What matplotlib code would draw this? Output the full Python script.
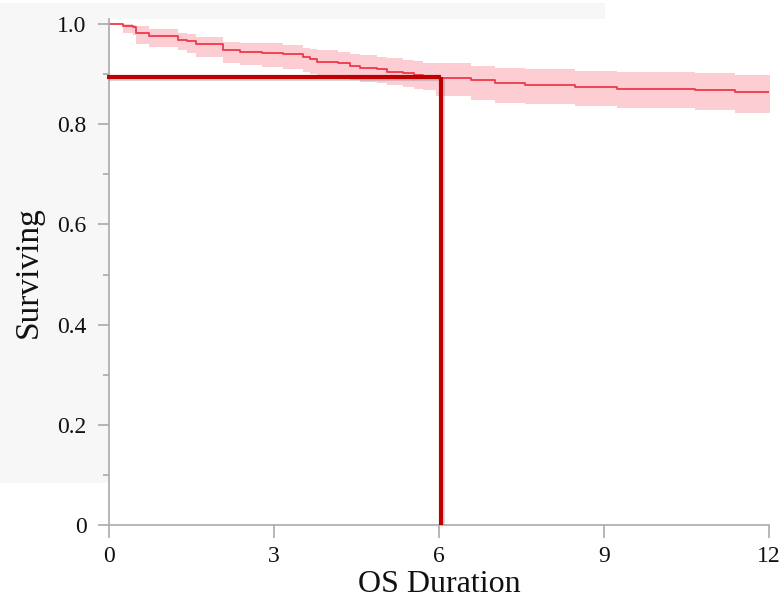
import matplotlib
matplotlib.use("Agg")
import matplotlib.pyplot as plt
import matplotlib.patheffects as pe
import numpy as np

# Kaplan-Meier values (time in months)
times = [0, 0.26, 0.44, 0.49, 0.73, 1.26, 1.41, 1.58, 2.08, 2.38, 2.78, 3.16, 3.53, 3.65, 3.78,
         4.16, 4.38, 4.56, 4.87, 5.05, 5.35, 5.55, 5.71, 5.95, 6.59, 7.02, 7.56, 8.47, 9.23,
         10.65, 11.38, 12.05]
surv = [1.0, 0.997, 0.994, 0.982, 0.976, 0.969, 0.966, 0.960, 0.949, 0.945, 0.943, 0.940, 0.935,
        0.930, 0.925, 0.922, 0.917, 0.913, 0.910, 0.905, 0.902, 0.899, 0.896, 0.893, 0.888,
        0.882, 0.878, 0.875, 0.871, 0.868, 0.864, 0.864]
upper = [1.0, 1.0, 0.999, 0.997, 0.990, 0.982, 0.980, 0.975, 0.965, 0.963, 0.963, 0.958, 0.952,
         0.950, 0.948, 0.945, 0.941, 0.938, 0.935, 0.932, 0.928, 0.926, 0.923, 0.923, 0.917,
         0.913, 0.910, 0.907, 0.905, 0.902, 0.898, 0.898]
lower = [1.0, 0.982, 0.978, 0.961, 0.955, 0.948, 0.943, 0.935, 0.922, 0.918, 0.915, 0.910, 0.905,
         0.901, 0.898, 0.893, 0.888, 0.885, 0.882, 0.878, 0.874, 0.871, 0.868, 0.857, 0.849,
         0.843, 0.840, 0.837, 0.832, 0.828, 0.823, 0.823]

mark_time = 6.03
mark_surv = 0.895

x_ticks = [0, 3, 6, 9, 12]
y_ticks = [0, 0.2, 0.4, 0.6, 0.8, 1.0]
y_labels = ["0", "0.2", "0.4", "0.6", "0.8", "1.0"]

plt.rcParams['font.family'] = ['Liberation Serif', 'DejaVu Serif']

fig = plt.figure(figsize=(7.8, 6.11), dpi=100)
# light grey panel behind the top-left of the chart
fig.patches.append(plt.Rectangle((0, 0.2095), 0.776, 0.7855, transform=fig.transFigure,
                                 facecolor='#f7f7f7', edgecolor='none', zorder=-5))

ax = fig.add_axes([0.1397, 0.1408, 0.8462, 0.828])
ax.set_facecolor('white')
ax.set_zorder(2)

ax.fill_between(times, lower, upper, step='post', color='#fccdd3', linewidth=0, zorder=1)
ax.step(times, surv, where='post', color='#f0384a', linewidth=1.3, zorder=2)

shadow = [pe.SimpleLineShadow(offset=(1.5, -2), shadow_color='#888888', alpha=0.35), pe.Normal()]
ax.plot([-0.04, mark_time], [mark_surv, mark_surv], color='#c00000', linewidth=3,
        solid_capstyle='butt', clip_on=False, zorder=4, path_effects=shadow)
ax.plot([mark_time, mark_time], [0, mark_surv], color='#c00000', linewidth=3,
        solid_capstyle='butt', zorder=4, path_effects=shadow)

ax.set_xlim(0, 12)
ax.set_ylim(0, 1.01)
ax.set_xticks(x_ticks)
ax.set_xticklabels([str(v) for v in x_ticks])
ax.set_yticks(y_ticks)
ax.set_yticklabels(y_labels)
ax.set_yticks(np.arange(0.1, 1.0, 0.2), minor=True)

for side in ['top', 'right']:
    ax.spines[side].set_visible(False)
for side in ['left', 'bottom']:
    ax.spines[side].set_color('#aaaaaa')
    ax.spines[side].set_linewidth(1.2)

ax.tick_params(axis='x', which='major', length=9, width=1.2, color='#aaaaaa',
               labelsize=17, pad=6, labelcolor='#111111')
ax.tick_params(axis='y', which='major', length=8, width=1.2, color='#aaaaaa',
               labelsize=17, pad=8, labelcolor='#111111')
ax.tick_params(axis='y', which='minor', length=4, width=1.2, color='#aaaaaa')

ax.set_xlabel("OS Duration", fontsize=23, labelpad=2, color='#111111')
ax.set_ylabel("Surviving", fontsize=24, labelpad=10, color='#111111')

fig.savefig("out.png", dpi=100)
